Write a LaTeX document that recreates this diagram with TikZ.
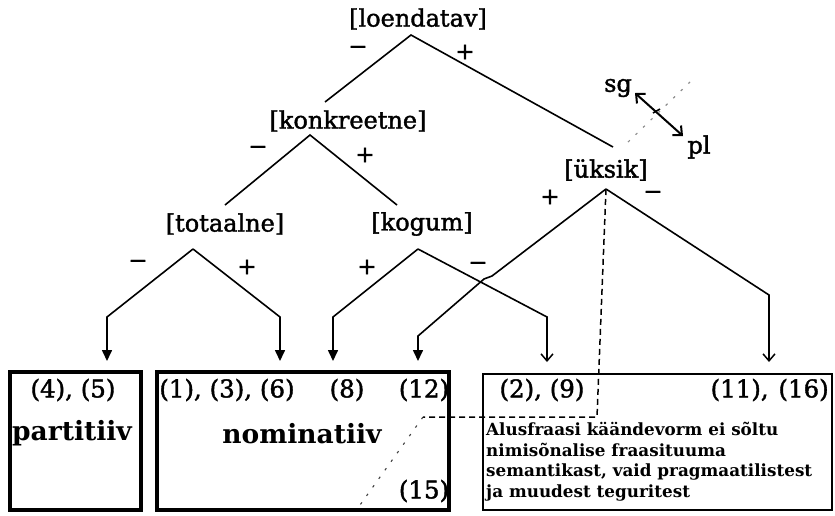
\documentclass[tikz,border=0pt]{standalone}
\usepackage{fontspec}
\setmainfont{DejaVu Serif}
\newfontfamily\heavyserif{DejaVu Serif}[FakeBold=1.6]
\usetikzlibrary{arrows.meta}

\tikzset{
  feat/.style={inner sep=0pt, font=\heavyserif\fontsize{24}{28}\selectfont},
  sgn/.style={inner sep=0pt, font=\heavyserif\fontsize{23}{26}\selectfont},
  num/.style={inner sep=0pt, font=\heavyserif\fontsize{24.5}{28}\selectfont},
  casename/.style={inner sep=0pt, font=\bfseries\fontsize{26.5}{30}\selectfont},
  branch/.style={line width=1.6pt, line join=miter},
  fillarrow/.style={branch, -{Triangle[length=11pt,width=10pt]}},
  openarrow/.style={branch, -{Straight Barb[length=7pt,width=12pt,line width=1.5pt]}},
  thickbox/.style={draw, line width=3.5pt, inner sep=0pt},
  thinbox/.style={draw, line width=1.5pt, inner sep=0pt},
  linkdash/.style={line width=1.5pt, dash pattern=on 6pt off 4pt},
  faintdot/.style={line width=1.1pt, black!75, dash pattern=on 2.5pt off 8pt},
}

\begin{document}
\begin{tikzpicture}[x=1pt, y=-1pt]
\useasboundingbox (0,0) rectangle (835,515);

% feature labels
\node[feat] (loend) at (418,19) {[loendatav]};
\node[feat] (konk)  at (348,121) {[konkreetne]};
\node[feat] (tot)   at (225,224) {[totaalne]};
\node[feat] (kog)   at (422,224) {[kogum]};
\node[feat] (uks)   at (606,170) {[üksik]};

% branching points
\coordinate (aL) at (411,35);
\coordinate (aK) at (310,135);
\coordinate (aT) at (193,249);
\coordinate (aG) at (418,249);
\coordinate (aU) at (606,189);

% [loendatav] branches
\coordinate (lL) at (325,102);
\coordinate (lR) at (613,147);
\draw[branch] (lL) -- (aL) -- (lR);
\node[sgn] (lm) at (358,50) {−};
\node[sgn] (lp) at (465,52) {+};

% [konkreetne] branches
\coordinate (kL) at (225,205);
\coordinate (kR) at (397,205);
\draw[branch] (kL) -- (aK) -- (kR);
\node[sgn] (km) at (258,150) {−};
\node[sgn] (kp) at (365,155) {+};

% result boxes
\node[thickbox, minimum width=131pt, minimum height=138pt] (part) at (75.5,441) {};
\node[thickbox, minimum width=292pt, minimum height=138pt] (nom) at (303,441) {};
\node[thinbox, minimum width=349pt, minimum height=136pt] (rest) at (657.5,442) {};

% arrow tips above the boxes
\coordinate (t1) at (107,361);
\coordinate (t2) at (280,361);
\coordinate (t3) at (333,361);
\coordinate (t4) at (547,362);
\coordinate (t5) at (418,361);
\coordinate (t6) at (769,362);

% [totaalne] branches
\coordinate (tL) at (107,317);
\coordinate (tR) at (280,317);
\draw[fillarrow] (aT) -- (tL) -- (t1);
\draw[fillarrow] (aT) -- (tR) -- (t2);
\node[sgn] (tm) at (138,264) {−};
\node[sgn] (tp) at (247,267) {+};

% [kogum] branches
\coordinate (gL) at (333,317);
\coordinate (gR) at (547,317);
\draw[fillarrow] (aG) -- (gL) -- (t3);
\draw[openarrow] (aG) -- (gR) -- (t4);
\node[sgn] (gp) at (367,267) {+};
\node[sgn] (gm) at (478,266) {−};

% [üksik] branches
\coordinate (uA) at (492,276);
\coordinate (uB) at (484,279);
\coordinate (uL) at (418,336);
\coordinate (uR) at (769,295);
\draw[fillarrow] (aU) -- (uA) -- (uB) -- (uL) -- (t5);
\draw[openarrow] (aU) -- (uR) -- (t6);
\node[sgn] (up) at (550,197) {+};
\node[sgn] (um) at (653,195) {−};

% dashed link from [üksik] into the boxes
\coordinate (dB) at (597,417);
\coordinate (dL) at (423,417);
\coordinate (dE) at (360,505);
\draw[linkdash] (aU) -- (dB) -- (dL);
\draw[faintdot] (dL) -- (dE);

% number opposition
\node[feat] (sg) at (618,88) {sg};
\node[feat] (pl) at (699,147) {pl};
\coordinate (sgE) at (635,93);
\coordinate (plW) at (683,136);
\draw[line width=2pt, {Straight Barb[length=7pt,width=13pt,line width=2pt]}-{Straight Barb[length=7pt,width=13pt,line width=2pt]}]
  (sgE) -- (plW);
\coordinate (nA) at (628,142);
\coordinate (nB) at (690,82);
\draw[faintdot, black!45] (nA) -- (nB);
\draw[line width=1.6pt] (653,113) -- (660,109);

% box contents
\node[num] (n45) at (73,390) {(4), (5)};
\node[casename] (pt) at (72,433) {partitiiv};

\node[num] (n136) at (227,390) {(1), (3), (6)};
\node[num] (n8)   at (347,390) {(8)};
\node[num] (n12)  at (424,390) {(12)};
\node[casename] (nm) at (302,434) {nominatiiv};
\node[num] (n15)  at (424,491) {(15)};

\node[num] (n29)  at (542,390) {(2), (9)};
\node[num, anchor=east] (n1116) at (829,390) {(11),\hspace{0.4em}(16)};
\node[anchor=north west, inner sep=0pt, align=left,
      font=\bfseries\fontsize{16.8}{20.5}\selectfont] (note) at (486,422)
  {Alusfraasi käändevorm ei sõltu\\
   nimisõnalise fraasituuma\\
   semantikast, vaid pragmaatilistest\\
   ja muudest teguritest};
\end{tikzpicture}
\end{document}
